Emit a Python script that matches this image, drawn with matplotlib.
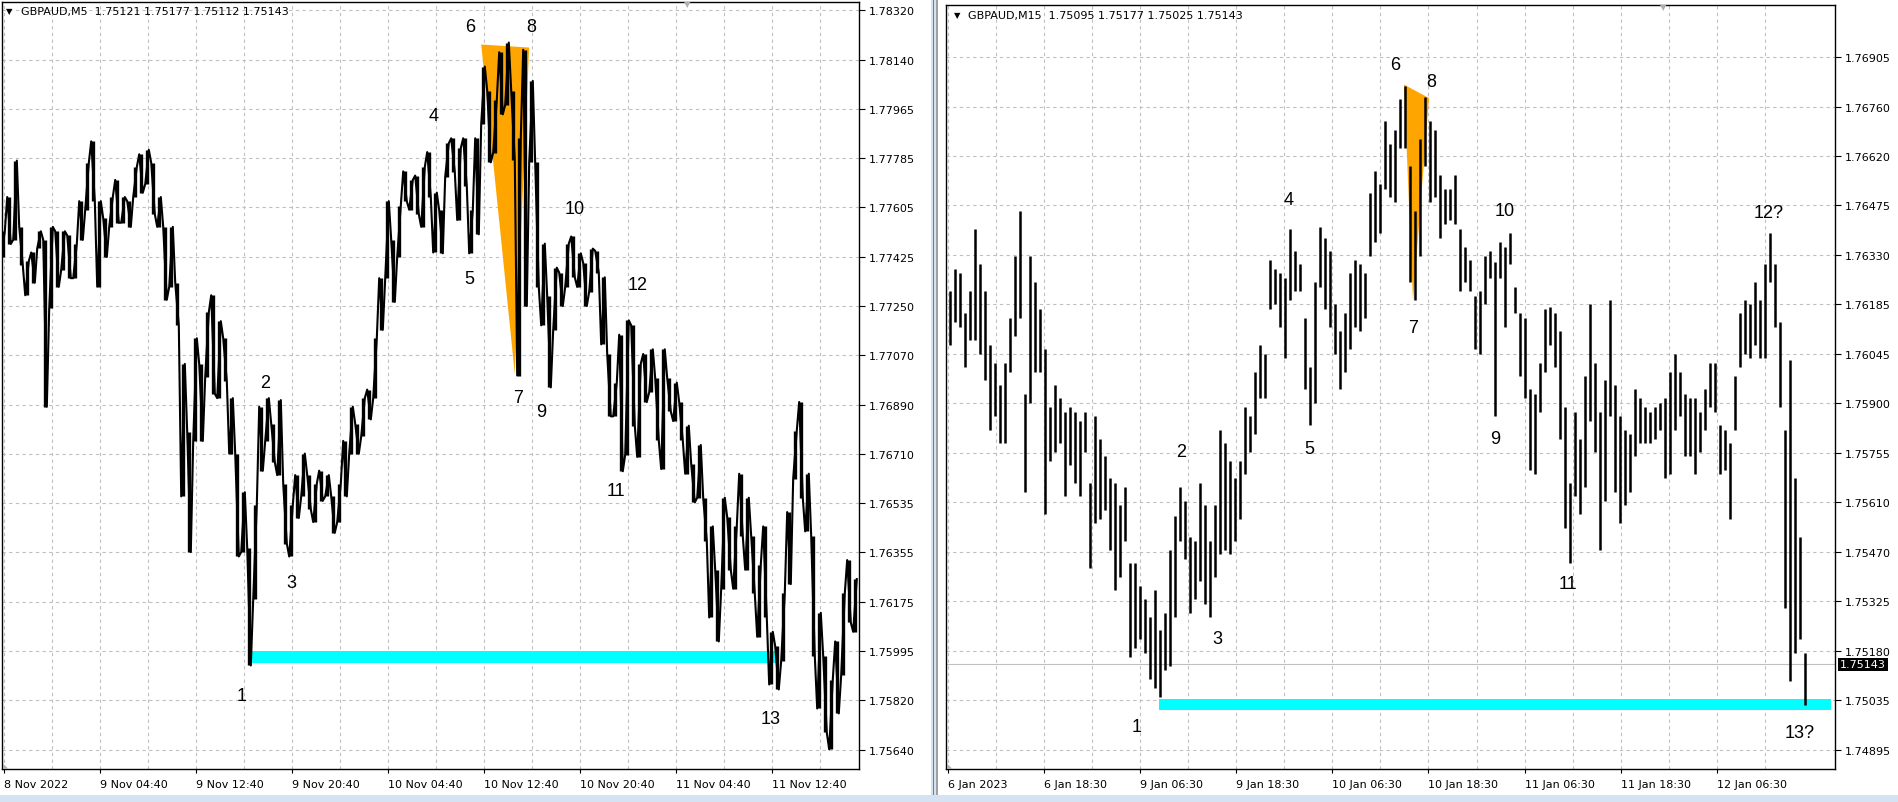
import matplotlib.pyplot as plt
from matplotlib.patches import Polygon, Rectangle
from matplotlib.transforms import blended_transform_factory

# left chart GBPAUD,M5 - high / low per slot, in points above 1.75000
left_hi = [2519, 2643, 2775, 2535, 2411, 2442, 2519, 2488, 2535, 2519,
           2519, 2504, 2473, 2628, 2767, 2845, 2628, 2566, 2643, 2705,
           2643, 2628, 2752, 2798, 2814, 2767, 2643, 2535, 2535, 2333,
           2038, 1790, 2131, 2038, 2225, 2287, 2193, 2131, 1914, 1713,
           1573, 1371, 1527, 1883, 1914, 1821, 1907, 1604, 1527, 1635,
           1713, 1635, 1604, 1651, 1635, 1558, 1604, 1759, 1883, 1821,
           1914, 1945, 2131, 2349, 2628, 2488, 2612, 2736, 2705, 2721,
           2752, 2806, 2659,
           2595, 2838, 2856, 2821, 2856, 2595, 2856, 3116, 3029, 2995,
           3168, 3203, 3029, 2856, 3177, 3064, 2769, 2474, 2283, 2387,
           2369, 2474, 2500, 2439, 2404, 2456, 2448, 2352, 2074, 1970,
           2144, 2196, 2178, 2039, 2074, 2091, 1987, 2091, 1987, 1970,
           1900, 1814, 1675, 1744, 1553, 1449, 1292, 1553, 1483, 1449,
           1640, 1553, 1414, 1310, 1449, 1067, 1015, 1206, 1501, 1796,
           1900, 1640, 1414, 1136, 980, 893, 1032, 1206, 1327, 1258]
left_lo = [2426, 2473, 2488, 2395, 2287, 2333, 2457, 1883, 2240, 2318,
           2380, 2349, 2349, 2488, 2597, 2628, 2318, 2426, 2535, 2550,
           2550, 2535, 2643, 2659, 2690, 2581, 2535, 2271, 2318, 2178,
           1558, 1356, 1759, 1759, 1992, 1930, 1914, 1976, 1713, 1340,
           1356, 945, 1185, 1651, 1759, 1682, 1635, 1387, 1340, 1480,
           1558, 1511, 1465, 1542, 1558, 1426, 1465, 1558, 1713, 1713,
           1775, 1837, 1914, 2162, 2349, 2263, 2426, 2628, 2597, 2581,
           2535, 2643, 2442,
           2439, 2717, 2734, 2560, 2682, 2439, 2508, 2908, 2769, 2804,
           2943, 2977, 2778, 1996, 2248, 2769, 2317, 2178, 1953, 2161,
           2248, 2317, 2352, 2317, 2248, 2300, 2369, 2109, 1848, 1848,
           1649, 1709, 1814, 1701, 1900, 1935, 1761, 1657, 1866, 1831,
           1761, 1640, 1536, 1553, 1397, 1119, 1032, 1223, 1292, 1223,
           1414, 1292, 1206, 1049, 1119, 876, 858, 962, 1240, 1622,
           1553, 1431, 980, 789, 702, 641, 771, 910, 1101, 1067]

# right chart GBPAUD,M15 - high / low per bar, in points above 1.74000
right_hi = [2226, 2290, 2277, 2161, 2226, 2407, 2303, 2226, 2070, 2018,
            1954, 2018, 2148, 2329, 2459, 1928, 2329, 2252, 2174, 2057,
            1889, 1954, 1915, 1876, 1889, 1876, 1850, 1876, 1669, 1863,
            1798, 1746, 1682, 1669, 1604, 1656, 1436, 1436, 1371, 1332,
            1280, 1358, 1241, 1293, 1474, 1572, 1656, 1617, 1513, 1500,
            1669, 1604, 1500, 1604, 1824, 1785, 1734, 1682, 1734, 1889,
            1863, 1992, 2070, 2044, 2316, 2290, 2277, 2264, 2407, 2342,
            2303, 2148, 2005, 2252, 2413, 2381, 2342, 2187, 2109, 2161,
            2277, 2316, 2303, 2277, 2510, 2575, 2536, 2718, 2653, 2692,
            2782, 2821, 2588, 2459, 2666, 2789, 2718, 2692, 2562, 2523,
            2523, 2562, 2407, 2355, 2316, 2213, 2226, 2329, 2342, 2310,
            2368, 2355, 2394, 2239, 2161, 2148, 1941, 1928, 2018, 2174,
            2180, 2161, 2109, 1889, 1669, 1876, 1798, 1980, 2187, 2018,
            1876, 1967, 2200, 1954, 1863, 1824, 1811, 1941, 1915, 1889,
            1876, 1889, 1902, 1915, 1992, 2044, 1992, 1928, 1915, 1915,
            1876, 1941, 2018, 2018, 1837, 1824, 1785, 1980, 2161, 2200,
            2187, 2252, 2200, 2303, 2394, 2303, 2135, 1824, 2027, 1682,
            1513, 1177]
right_lo = [2070, 2135, 2122, 2005, 2083, 2083, 2044, 1967, 1824, 1863,
            1785, 1785, 1992, 2096, 2148, 1643, 1902, 1992, 1992, 1578,
            1734, 1759, 1785, 1630, 1721, 1669, 1630, 1759, 1423, 1552,
            1565, 1591, 1474, 1358, 1397, 1500, 1164, 1190, 1215, 1177,
            1099, 1073, 1047, 1125, 1138, 1280, 1500, 1449, 1293, 1332,
            1384, 1319, 1280, 1397, 1462, 1474, 1462, 1500, 1565, 1695,
            1759, 1811, 1915, 1915, 2174, 2187, 2122, 2031, 2200, 2226,
            2226, 1941, 1837, 1902, 2239, 2174, 2122, 2044, 1941, 1992,
            2057, 2122, 2109, 2148, 2329, 2368, 2394, 2523, 2498, 2485,
            2640, 2640, 2252, 2200, 2329, 2588, 2485, 2498, 2381, 2420,
            2433, 2420, 2226, 2252, 2226, 2057, 2044, 2187, 2264, 1863,
            2264, 2122, 2303, 2161, 1980, 1915, 1708, 1695, 1876, 1992,
            2070, 2005, 1798, 1539, 1436, 1630, 1578, 1656, 1850, 1759,
            1474, 1617, 1863, 1643, 1552, 1604, 1643, 1746, 1785, 1785,
            1785, 1798, 1824, 1682, 1695, 1824, 1863, 1746, 1746, 1695,
            1759, 1824, 1889, 1876, 1695, 1708, 1565, 1824, 2005, 2044,
            2031, 2070, 2031, 2031, 2252, 2122, 1889, 1306, 1093, 1177,
            1215, 1025]

left_yticks = ['1.78320', '1.78140', '1.77965', '1.77785', '1.77605', '1.77425',
               '1.77250', '1.77070', '1.76890', '1.76710', '1.76535', '1.76355',
               '1.76175', '1.75995', '1.75820', '1.75640']
right_yticks = ['1.76905', '1.76760', '1.76620', '1.76475', '1.76330', '1.76185',
                '1.76045', '1.75900', '1.75755', '1.75610', '1.75470', '1.75325',
                '1.75180', '1.75035', '1.74895']
left_dates = ['8 Nov 2022', '9 Nov 04:40', '9 Nov 12:40', '9 Nov 20:40', '10 Nov 04:40',
              '10 Nov 12:40', '10 Nov 20:40', '11 Nov 04:40', '11 Nov 12:40']
right_dates = ['6 Jan 2023', '6 Jan 18:30', '9 Jan 06:30', '9 Jan 18:30', '10 Jan 06:30',
               '10 Jan 18:30', '11 Jan 06:30', '11 Jan 18:30', '12 Jan 06:30']

# wave marks: (slot, points)
left_marks = ['1', '2', '3', '4', '5', '6', '7', '8', '9', '10', '11', '12', '13']
left_mark_x = [39.8, 43.7, 48.0, 71.7, 77.7, 77.8, 85.8, 88.0, 89.7, 95.3, 102.2, 105.7, 128.0]
left_mark_y = [837, 1969, 1247, 2938, 2347, 3261, 1915, 3261, 1864, 2601, 1581, 2325, 753]
right_marks = ['1', '2', '3', '4', '5', '6', '7', '8', '9', '10', '11', '12?', '13?']
right_mark_x = [37.4, 46.2, 53.4, 67.8, 71.8, 89.0, 92.6, 96.2, 109.0, 111.0, 123.6, 163.8, 170.0]
right_mark_y = [961, 1759, 1219, 2493, 1770, 2884, 2121, 2835, 1797, 2461, 1376, 2455, 944]

# orange triangles (6-7-8) and cyan level boxes
left_tri_x = [79.7, 85.3, 87.7]
left_tri_y = [3196, 2002, 3185]
right_tri_x = [90.8, 92.6, 95.8]
right_tri_y = [2825, 2197, 2786]
left_box_x = [41.0, 128.8]
left_box_y = [953, 996]
right_box_x = [41.8, 176.2]
right_box_y = [1010, 1042]
last_price = 1.75143

W, H = 1899, 803
fig = plt.figure(figsize=(W / 100, H / 100), dpi=100)
fig.patch.set_facecolor('#d5e2f1')
fig.add_artist(Rectangle((0, 7 / H), 931 / W, 1, transform=fig.transFigure,
                         fc='white', ec='none', zorder=0))
fig.add_artist(Rectangle((938 / W, 7 / H), 1, 1, transform=fig.transFigure,
                         fc='white', ec='none', zorder=0))
fig.add_artist(Rectangle((933 / W, 7 / H), 1.5 / W, 1, transform=fig.transFigure,
                         fc='#7a7a7a', ec='none', zorder=0))
fig.add_artist(Rectangle((936.5 / W, 7 / H), 1.2 / W, 1, transform=fig.transFigure,
                         fc='#a0a0a0', ec='none', zorder=0))


def px(x0, y0, x1, y1):
    return [x0 / W, 1 - y1 / H, (x1 - x0) / W, (y1 - y0) / H]


def frame(ax, ylo, yhi, ytop, ystep, ylabels, xlo, xhi, x0, xstep, xlabels):
    ax.set_xlim(xlo, xhi)
    ax.set_ylim(ylo, yhi)
    ax.set_yticks([ytop - k * ystep for k in range(len(ylabels))], ylabels)
    ax.set_xticks([x0 + k * xstep for k in range(len(xlabels))], xlabels)
    minor = [x0 + (k + 0.5) * xstep for k in range(-1, len(xlabels) + 1)]
    ax.set_xticks([m for m in minor if xlo < m < xhi], minor=True)
    for lab in ax.get_xticklabels():
        lab.set_horizontalalignment('left')
    ax.yaxis.tick_right()
    ax.tick_params(axis='y', length=4, width=0.8, pad=3, labelsize=8)
    ax.tick_params(axis='x', which='major', length=3, width=0.8, pad=4, labelsize=8)
    ax.tick_params(axis='x', which='minor', length=0)
    ax.grid(which='both', color='#c0c0c0', linestyle=(0, (3, 3)), linewidth=0.8)
    ax.set_axisbelow(True)
    for s in ax.spines.values():
        s.set_linewidth(1.0)
    ax.set_facecolor('white')


# ---------------- left chart ----------------
axL = fig.add_axes(px(2, 3, 859, 770))
lp = lambda v: 1.75 + v / 1e5
frame(axL, 1.755696, 1.783501, 1.78320, 0.0268 / 15, left_yticks,
      -0.17, 142.67, 0.17, 16, left_dates)

axL.add_patch(Rectangle((left_box_x[0], lp(left_box_y[0])), left_box_x[1] - left_box_x[0],
                        lp(left_box_y[1]) - lp(left_box_y[0]), fc='#00ffff', ec='none', zorder=1))
axL.add_patch(Polygon(list(zip(left_tri_x, [lp(v) for v in left_tri_y])),
                      fc='#ffa500', ec='none', zorder=1))
xs = range(len(left_hi))
axL.vlines(xs, [lp(v) for v in left_lo], [lp(v) for v in left_hi], color='black', lw=2.4, zorder=2)
zx, zy = [], []
for i in xs:
    a, b = (left_hi[i], left_lo[i]) if i % 2 else (left_lo[i], left_hi[i])
    zx += [i - 0.3, i + 0.3]
    zy += [lp(a), lp(b)]
axL.plot(zx, zy, color='black', lw=1.5, zorder=2)
for t, x, y in zip(left_marks, left_mark_x, left_mark_y):
    axL.text(x, lp(y), t, fontsize=13, family='Liberation Sans', ha='center', va='center', zorder=3)

# ---------------- right chart ----------------
axR = fig.add_axes(px(946, 6, 1835, 770))
rp = lambda v: 1.74 + v / 1e5
frame(axR, 1.74839, 1.77056, 1.76905, 0.0201 / 14, right_yticks,
      -0.8, 177.0, -0.4, 19.22, right_dates)

axR.add_patch(Rectangle((right_box_x[0], rp(right_box_y[0])), right_box_x[1] - right_box_x[0],
                        rp(right_box_y[1]) - rp(right_box_y[0]), fc='#00ffff', ec='none', zorder=1))
axR.add_patch(Polygon(list(zip(right_tri_x, [rp(v) for v in right_tri_y])),
                      fc='#ffa500', ec='none', zorder=1))
axR.axhline(last_price, color='#c0c0c0', lw=0.8, zorder=1)
xs = range(len(right_hi))
axR.vlines(xs, [rp(v) for v in right_lo], [rp(v) for v in right_hi], color='black', lw=1.8, zorder=2)
for t, x, y in zip(right_marks, right_mark_x, right_mark_y):
    axR.text(x, rp(y), t, fontsize=13, family='Liberation Sans', ha='center', va='center', zorder=3)
tr = blended_transform_factory(axR.transAxes, axR.transData)
axR.text(1 + 5 / 889, last_price, '%.5f' % last_price, transform=tr, color='white', fontsize=8,
         va='center', ha='left', bbox=dict(fc='black', ec='none', pad=1.2), clip_on=False)

# headers and small chart markers
fig.text(6 / W, 1 - 12 / H, '▼', fontsize=6, va='center')
fig.text(21 / W, 1 - 12 / H, 'GBPAUD,M5  1.75121 1.75177 1.75112 1.75143', fontsize=8, va='center')
fig.text(954 / W, 1 - 16 / H, '▼', fontsize=6, va='center')
fig.text(968 / W, 1 - 16 / H, 'GBPAUD,M15  1.75095 1.75177 1.75025 1.75143', fontsize=8, va='center')
fig.text(687 / W, 1 - 5 / H, '▼', fontsize=6, color='#b0b0b0', ha='center', va='center')
fig.text(1663 / W, 1 - 8 / H, '▼', fontsize=6, color='#b0b0b0', ha='center', va='center')
fig.text(3 / W, 1 - 766 / H, '◣', fontsize=5, color='#b0b0b0', va='center')
fig.text(947 / W, 1 - 766 / H, '◣', fontsize=5, color='#b0b0b0', va='center')

fig.savefig('out.png', dpi=100, facecolor=fig.get_facecolor())
